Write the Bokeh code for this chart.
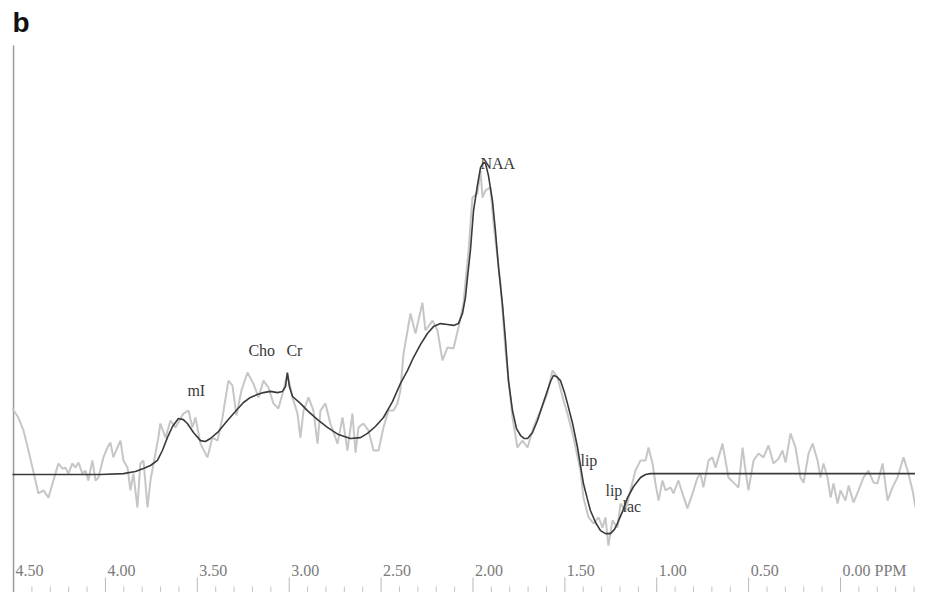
from bokeh.plotting import figure
from bokeh.models import Range1d, ColumnDataSource, Label
from bokeh.core.properties import value
from bokeh.embed import file_html
from bokeh.resources import INLINE

# ---- raw spectrum (grey, noisy) : chemical shift (ppm) and intensity (a.u.)
raw_ppm = [4.506, 4.474, 4.446, 4.419, 4.397, 4.381, 4.365, 4.337, 4.310, 4.288,
           4.272, 4.256, 4.234, 4.218, 4.201, 4.180, 4.163, 4.147, 4.125, 4.109,
           4.093, 4.071, 4.054, 4.038, 4.011, 3.989, 3.973, 3.957, 3.935, 3.918,
           3.902, 3.880, 3.864, 3.848, 3.826, 3.810, 3.793, 3.771, 3.755, 3.728,
           3.712, 3.701, 3.673, 3.646, 3.619, 3.576, 3.548, 3.527, 3.510, 3.483,
           3.445, 3.418, 3.390, 3.363, 3.331, 3.309, 3.287, 3.260, 3.227, 3.195,
           3.167, 3.140, 3.113, 3.086, 3.059, 3.031, 3.010, 2.982, 2.955, 2.939,
           2.922, 2.895, 2.868, 2.846, 2.830, 2.803, 2.776, 2.737, 2.710, 2.683,
           2.656, 2.639, 2.623, 2.596, 2.569, 2.541, 2.514, 2.487, 2.460, 2.433,
           2.411, 2.395, 2.378, 2.356, 2.340, 2.313, 2.275, 2.259, 2.220, 2.193,
           2.166, 2.139, 2.106, 2.079, 2.052, 2.024, 2.003, 1.976, 1.959, 1.948,
           1.932, 1.905, 1.888, 1.850, 1.823, 1.785, 1.758, 1.731, 1.703, 1.671,
           1.633, 1.595, 1.567, 1.540, 1.507, 1.486, 1.453, 1.415, 1.399, 1.371,
           1.344, 1.317, 1.295, 1.279, 1.263, 1.241, 1.214, 1.197, 1.170, 1.143,
           1.116, 1.088, 1.061, 1.045, 1.023, 1.007, 0.990, 0.969, 0.952, 0.925,
           0.909, 0.882, 0.860, 0.833, 0.805, 0.778, 0.762, 0.746, 0.718, 0.697,
           0.680, 0.642, 0.626, 0.610, 0.582, 0.555, 0.533, 0.517, 0.501, 0.473,
           0.446, 0.419, 0.392, 0.365, 0.337, 0.316, 0.299, 0.272, 0.245, 0.218,
           0.201, 0.174, 0.152, 0.125, 0.109, 0.093, 0.071, 0.054, 0.038, 0.016,
           0.000, -0.027, -0.044, -0.071, -0.098, -0.125, -0.152, -0.180, -0.201, -0.229,
           -0.256, -0.283, -0.310, -0.343, -0.365, -0.392, -0.408, -0.435, -0.452, -0.473,
           -0.495]
raw_amp = [22.0, 19.0, 14.7, 8.0, 2.3, -2.0, -6.3, -5.3, -7.7, -3.0,
           0.3, 3.7, 2.0, 2.3, 0.3, 3.7, 2.3, 4.0, 0.3, 1.3,
           -2.0, 4.7, -2.0, -1.0, 5.7, 9.0, 10.7, 5.7, 9.0, 11.3,
           4.7, 2.3, -5.3, 0.3, -11.0, 3.7, 4.7, -11.0, -2.0, 7.0,
           12.3, 17.0, 12.3, 18.0, 15.7, 20.3, 21.3, 15.7, 19.0, 10.3,
           5.7, 12.3, 11.3, 19.0, 31.3, 29.7, 19.7, 28.0, 34.0, 30.3,
           25.7, 31.3, 29.0, 23.7, 22.0, 28.0, 33.7, 25.7, 20.3, 12.3,
           21.3, 25.7, 21.3, 10.3, 21.3, 23.7, 17.0, 10.3, 19.0, 8.0,
           20.3, 7.3, 15.7, 17.0, 14.7, 8.0, 8.0, 15.7, 21.3, 21.3,
           23.7, 28.0, 40.3, 48.0, 53.7, 47.0, 57.3, 48.0, 51.3, 48.0,
           38.0, 42.3, 42.0, 49.0, 57.0, 74.7, 92.3, 93.7, 101.3, 92.3,
           94.7, 95.7, 83.7, 63.7, 41.3, 19.0, 9.0, 11.3, 9.0, 15.7,
           21.3, 27.0, 34.7, 32.3, 24.7, 20.3, 12.3, 1.3, -7.7, -14.3,
           -16.3, -14.3, -17.7, -14.3, -23.7, -15.3, -17.7, -9.7, -12.0, -5.3,
           1.3, 4.7, 4.7, 9.0, 3.7, -3.0, -8.7, -2.0, -5.3, -4.3,
           -6.3, -2.0, -6.3, -11.3, -6.3, -1.0, 0.3, -4.3, 4.7, 5.7,
           2.3, 10.3, 4.7, -1.0, -2.7, -4.3, 9.0, 1.3, -5.3, 4.7,
           7.0, 5.7, 9.7, 3.7, 5.3, 8.0, 4.0, 13.7, 9.0, -1.0,
           -2.7, 7.0, 10.3, 4.7, -1.0, 3.7, -1.0, -7.7, -3.0, -9.7,
           -5.3, -8.7, -3.7, -9.3, -5.3, -1.0, 1.3, -2.7, -3.0, 3.7,
           -8.7, -4.3, -1.0, 5.7, 1.3, -5.3, -11.0, -4.3, 0.3, -1.0,
           1.3]

# ---- fitted spectrum (dark line)
fit_ppm = [4.506, 4.027, 3.902, 3.837, 3.793, 3.755, 3.717, 3.690, 3.663, 3.635,
           3.603, 3.576, 3.554, 3.521, 3.483, 3.456, 3.429, 3.385, 3.336, 3.293,
           3.249, 3.211, 3.173, 3.140, 3.102, 3.064, 3.037, 3.020, 3.010, 2.999,
           2.982, 2.939, 2.901, 2.846, 2.792, 2.732, 2.667, 2.612, 2.574, 2.531,
           2.487, 2.438, 2.395, 2.356, 2.324, 2.286, 2.248, 2.215, 2.177, 2.139,
           2.106, 2.079, 2.057, 2.041, 2.030, 2.014, 1.997, 1.976, 1.959, 1.943,
           1.932, 1.916, 1.894, 1.878, 1.861, 1.839, 1.823, 1.807, 1.785, 1.763,
           1.741, 1.720, 1.703, 1.676, 1.649, 1.622, 1.595, 1.578, 1.562, 1.546,
           1.524, 1.502, 1.486, 1.458, 1.431, 1.415, 1.399, 1.377, 1.361, 1.333,
           1.306, 1.279, 1.252, 1.230, 1.214, 1.186, 1.159, 1.126, 1.088, 1.061,
           1.034, -0.495]
fit_amp = [0.0, 0.0, 0.3, 1.0, 2.0, 3.0, 4.7, 8.0, 12.3, 16.0,
           18.7, 18.3, 17.0, 14.0, 11.3, 11.0, 12.0, 14.3, 18.0, 21.0,
           24.0, 25.7, 26.7, 27.3, 27.7, 27.3, 27.7, 29.3, 34.0, 29.3,
           26.0, 23.7, 21.3, 18.3, 15.7, 13.3, 12.0, 12.3, 13.7, 16.0,
           19.0, 24.3, 30.3, 34.7, 39.0, 43.3, 47.0, 49.3, 50.3, 50.0,
           49.7, 50.3, 53.7, 59.0, 65.7, 74.7, 88.0, 96.3, 102.3, 104.0,
           103.7, 99.7, 91.3, 81.3, 69.0, 56.3, 44.7, 31.3, 21.3, 15.3,
           13.0, 12.0, 12.0, 14.0, 18.0, 23.0, 28.0, 31.0, 33.0, 32.7,
           31.3, 27.3, 23.7, 17.0, 9.0, 3.0, -3.0, -8.3, -12.0, -16.0,
           -18.7, -19.7, -19.7, -18.3, -16.3, -12.3, -7.7, -4.0, -1.0, 0.0,
           0.3, 0.3]

# ---- metabolite labels
peak_names = ["mI", "Cho", "Cr", "NAA", "lip", "lip", "lac"]
peak_ppm = [3.554, 3.222, 3.015, 1.959, 1.415, 1.279, 1.186]
peak_amp = [28.0, 41.3, 41.3, 103.7, 4.7, -5.3, -10.7]

# ---- ppm scale
major_ticks = [4.5, 4.0, 3.5, 3.0, 2.5, 2.0, 1.5, 1.0, 0.5, 0.0]
tick_labels = ["4.50", "4.00", "3.50", "3.00", "2.50", "2.00", "1.50", "1.00", "0.50", "0.00 PPM"]
minor_ticks = [4.4, 4.3, 4.2, 4.1, 3.9, 3.8, 3.7, 3.6, 3.4, 3.3, 3.2, 3.1,
               2.9, 2.8, 2.7, 2.6, 2.4, 2.3, 2.2, 2.1, 1.9, 1.8, 1.7, 1.6,
               1.4, 1.3, 1.2, 1.1, 0.9, 0.8, 0.7, 0.6, 0.4, 0.3, 0.2, 0.1,
               -0.1, -0.2, -0.3, -0.4]

W, H = 915, 592
p = figure(width=W, height=H, output_backend="svg", toolbar_location=None,
           x_range=Range1d(4.571, -0.408), y_range=Range1d(-39.33, 158.0),
           x_axis_type=None, y_axis_type=None, min_border=0,
           outline_line_color=None, background_fill_color="white",
           border_fill_color="white")

# left frame line (at 4.50)
p.segment(x0=[4.5], y0=[143.0], x1=[4.5], y1=[-45.0], line_color="#9a9a9a", line_width=1.5)
# scale ticks
p.segment(x0=major_ticks[1:], y0=[-34.3] * 9, x1=major_ticks[1:], y1=[-45.0] * 9,
          line_color="#b8b8b8", line_width=1)
p.segment(x0=minor_ticks, y0=[-37.3] * len(minor_ticks), x1=minor_ticks,
          y1=[-45.0] * len(minor_ticks), line_color="#c4c4c4", line_width=1)
p.text(x=major_ticks, y=[-32.0] * len(major_ticks), text=tick_labels,
       text_font=value("Liberation Serif"), text_font_size="16px",
       text_color="#7a7a7a", text_align="left", text_baseline="middle", x_offset=2)

# spectra
p.line(raw_ppm, raw_amp, line_color="#c6c6c6", line_width=2)
p.line(fit_ppm, fit_amp, line_color="#3a3a3a", line_width=1.6)

src = ColumnDataSource(dict(x=peak_ppm, y=peak_amp, t=peak_names))
p.text(x="x", y="y", text="t", source=src, text_font=value("Liberation Serif"),
       text_font_size="16px", text_color="#3a3a3a", text_align="left",
       text_baseline="middle")

p.add_layout(Label(x=12, y=H - 6, x_units="screen", y_units="screen", text="b",
                   text_font="Liberation Sans", text_font_size="28px",
                   text_font_style="bold",
                   text_color="#111111", text_baseline="top", text_align="left"))

open("out.html", "w").write(file_html(p, INLINE))
